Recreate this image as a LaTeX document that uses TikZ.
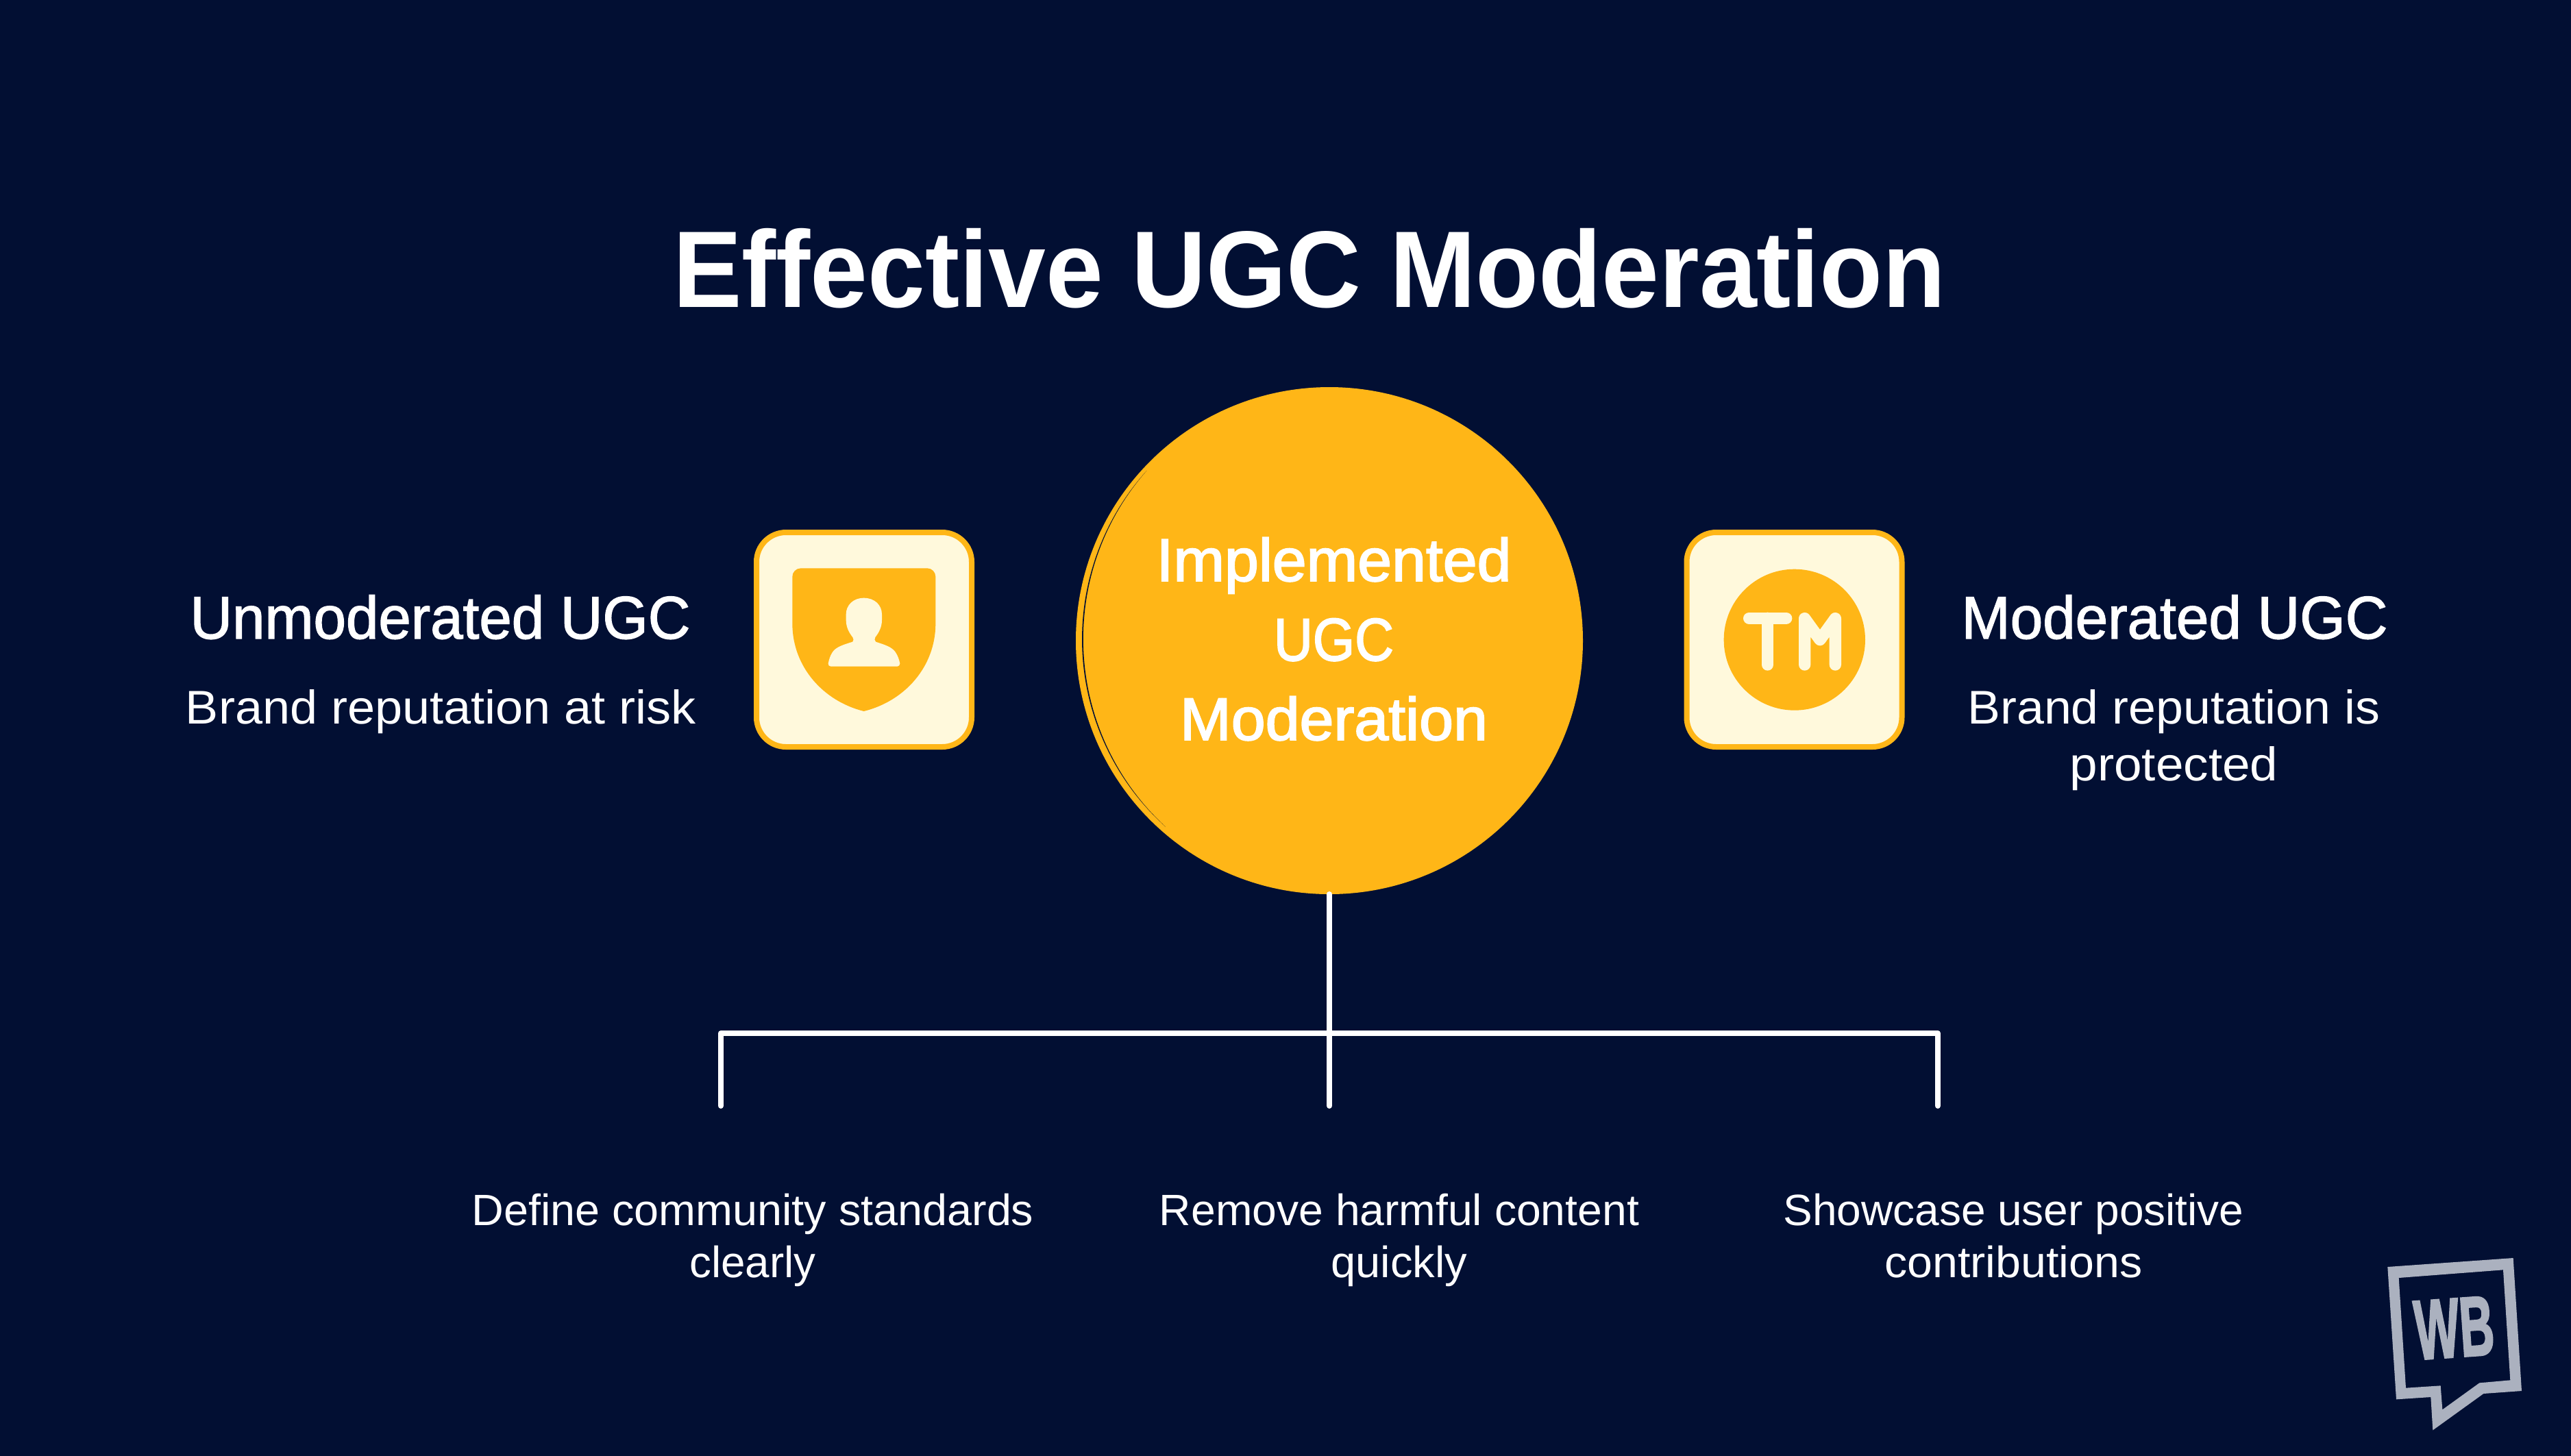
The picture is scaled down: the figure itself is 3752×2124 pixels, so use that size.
\documentclass[tikz,border=0pt]{standalone}
\usepackage{graphicx}
\usepackage{fontspec}
\setmainfont{Liberation Sans}
\newfontfamily\medfont[FakeBold=1.6]{Liberation Sans}
\newfontfamily\hubfont[FakeBold=2.2]{Liberation Sans}
\newfontfamily\boldfont{Liberation Sans Bold}
\newfontfamily\logofont[FakeBold=2.5]{Liberation Sans Bold}
\definecolor{bgnavy}{HTML}{020F33}
\definecolor{amber}{HTML}{FFB617}
\definecolor{cream}{HTML}{FFF9DC}
\definecolor{logogray}{HTML}{ABB1BF}
\newlength\pxu
\setlength\pxu{0.2pt}
\newcommand\fitw[2]{\resizebox{#1\pxu}{\height}{#2}}
\tikzset{
  x=0.2pt,y=-0.2pt,
  txt/.style={text=white,inner sep=0pt,outer sep=0pt,anchor=base,align=center},
  titletxt/.style={txt,font=\boldfont\fontsize{31.8}{36}\selectfont},
  headtxt/.style={txt,font=\medfont\fontsize{17.6}{21}\selectfont},
  hubtxt/.style={txt,font=\hubfont\fontsize{17.6}{23.2}\selectfont},
  subtxt/.style={txt,font=\fontsize{13.8}{16.6}\selectfont},
  bottomtxt/.style={txt,font=\fontsize{12.8}{15.2}\selectfont},
  hubdisc/.style={circle,fill=amber,inner sep=0pt,outer sep=0pt,minimum size=148pt},
  cardbox/.style={rectangle,rounded corners=8.6pt,draw=amber,fill=cream,line width=1.6pt,
    minimum width=62.8pt,minimum height=62.6pt,inner sep=0pt},
  conn/.style={draw=white,line width=1.6pt,line cap=round,line join=round},
  tmstroke/.style={draw=cream,line width=3.47pt,line cap=round,line join=round},
}
\begin{document}
\begin{tikzpicture}
\useasboundingbox (0,0) rectangle (3752,2124);
\fill[bgnavy] (-10,-10) rectangle (3762,2134);

% title
\node[titletxt] (title) at (1911,448) {\fitw{1858}{Effective UGC Moderation}};

% connector coordinates
\coordinate (lfoot) at (1052,1614);
\coordinate (lcorner) at (1052,1508);
\coordinate (rcorner) at (2828,1508);
\coordinate (rfoot) at (2828,1614);
\coordinate (mfoot) at (1940,1614);

% hub
\node[hubdisc] (hub) at (1940,935) {};
\fill[bgnavy] plot[domain=132:222,samples=60] ({1947+368*cos(\x)},{933+368*sin(\x)})
  -- plot[domain=222:132,samples=60] ({1947+(368-1.8*sin(2*(\x-132)))*cos(\x)},{933+(368-1.8*sin(2*(\x-132)))*sin(\x)}) -- cycle;
\node[hubtxt] (hublabel) at (1946.5,1080) {\fitw{518}{Implemented}\\\fitw{175}{UGC}\\\fitw{449}{Moderation}};

% connectors
\draw[conn] (hub.south) -- (mfoot);
\draw[conn] (lfoot) -- (lcorner) -- (rcorner) -- (rfoot);

% cards
\node[cardbox] (leftcard) at (1261,933.5) {};
\node[cardbox] (rightcard) at (2618.5,933.5) {};

% shield icon
\begin{scope}[shift={(1060,740)},scale=0.33333]
  \fill[amber] (289,305) .. controls (289,285) and (305,268) .. (326,268) -- (880,268)
    .. controls (900,268) and (916,285) .. (916,305) -- (916,510)
    .. controls (916,700) and (780,850) .. (602,894)
    .. controls (425,850) and (289,700) .. (289,510) -- cycle;
  \fill[cream] (602,398) .. controls (650,398) and (681,430) .. (681,470) -- (681,495)
    .. controls (681,525) and (668,550) .. (652,570)
    .. controls (648,577) and (648,585) .. (654,590)
    .. controls (690,602) and (725,612) .. (740,635)
    .. controls (750,650) and (756,665) .. (760,685)
    .. controls (760,692) and (755,698) .. (748,698) -- (458,698)
    .. controls (450,698) and (445,692) .. (446,685)
    .. controls (450,665) and (455,650) .. (465,635)
    .. controls (480,612) and (515,602) .. (553,590)
    .. controls (558,585) and (558,577) .. (553,570)
    .. controls (537,550) and (524,525) .. (524,495) -- (524,470)
    .. controls (524,430) and (555,398) .. (602,398) -- cycle;
\end{scope}

% TM icon
\begin{scope}[shift={(2430,740)},scale=0.33333]
  \fill[amber] (257,581) .. controls (257,410) and (396,272) .. (566.5,272)
    .. controls (737,272) and (876,410) .. (876,581)
    .. controls (876,752) and (737,890) .. (566.5,890)
    .. controls (396,890) and (257,752) .. (257,581) -- cycle;
  \draw[tmstroke] (368,487) -- (530,487) (449,487) -- (449,690);
  \draw[tmstroke] (611,690) -- (611,488) -- (678,581) -- (745,488) -- (745,690);
\end{scope}

% side labels
\node[headtxt] (lefthead) at (642.5,932) {\fitw{730}{Unmoderated UGC}};
\node[subtxt] (leftsub) at (643.5,1056) {\fitw{745}{Brand reputation at risk}};
\node[headtxt] (righthead) at (3173.5,932) {\fitw{622}{Moderated UGC}};
\node[subtxt] (rightsub) at (3172.5,1139) {\fitw{602}{Brand reputation is}\\\fitw{304}{protected}};

% bottom labels
\node[bottomtxt] (bottoma) at (1098.5,1864) {\fitw{820}{Define community standards}\\\fitw{184}{clearly}};
\node[bottomtxt] (bottomb) at (2042,1864) {\fitw{700}{Remove harmful content}\\\fitw{199}{quickly}};
\node[bottomtxt] (bottomc) at (2938.5,1864) {\fitw{672}{Showcase user positive}\\\fitw{376}{contributions}};

% logo
\begin{scope}[shift={(3440,1800)},scale=0.33333]
  \fill[logogray,even odd rule]
    (133,147) -- (683,108) -- (720,690) -- (553,702) -- (331,862) -- (322,717) -- (171,727) -- cycle
    (182,195) -- (639,160) -- (670,643) -- (535,655) -- (373,772) -- (365,667) -- (213,677) -- cycle;
\end{scope}
\node[inner sep=0pt,text=logogray,rotate=4,font=\logofont\fontsize{24.6}{26}\selectfont] (logotext) at (3581.5,1938) {\fitw{116}{WB}};
\end{tikzpicture}
\end{document}
